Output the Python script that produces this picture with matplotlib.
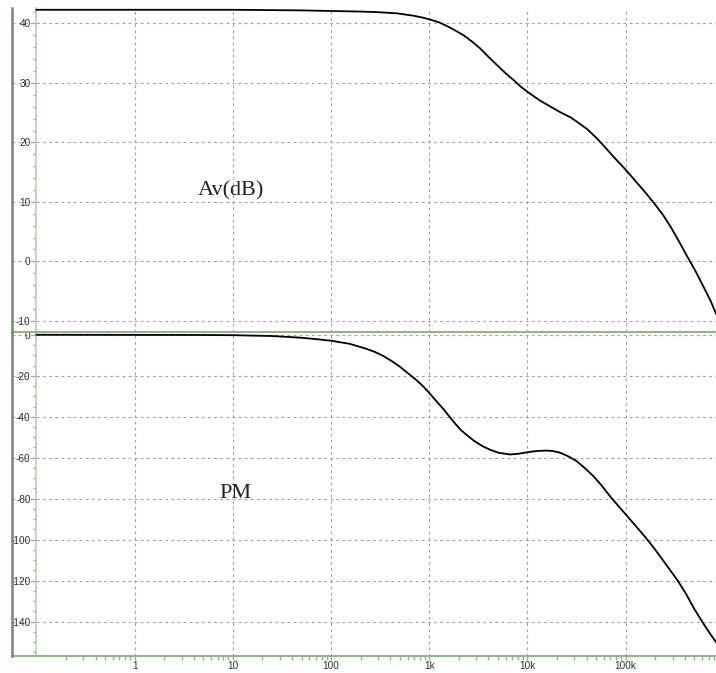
import matplotlib

matplotlib.use("Agg")
import matplotlib.pyplot as plt
from matplotlib.ticker import FixedFormatter, FixedLocator, MultipleLocator

plt.rcParams["axes.unicode_minus"] = False
plt.rcParams["font.family"] = ["Liberation Sans", "DejaVu Sans"]

# gain curve (Hz, dB)
FREQ_GAIN = [0.1, 10, 50, 100, 200, 300, 470, 690, 850, 1000, 1250, 1500, 1800,
             2240, 2700, 3300, 4000, 4900, 6000, 7200, 8500, 10000, 11500,
             13500, 16000, 18500, 22000, 27500, 33000, 40700, 50000, 60000,
             75000, 100000, 132000, 160000, 194000, 240000, 287000, 350000,
             424000, 520000, 625000, 730000, 831000]
GAIN_DB = [42.3, 42.3, 42.2, 42.1, 42.0, 41.9, 41.7, 41.3, 41.0, 40.7, 40.2,
           39.6, 38.9, 38.0, 37.0, 35.8, 34.4, 33.0, 31.6, 30.5, 29.4, 28.5,
           27.8, 27.0, 26.3, 25.7, 25.0, 24.2, 23.3, 22.2, 20.8, 19.4, 17.6,
           15.4, 13.1, 11.5, 9.8, 7.8, 5.8, 3.3, 0.8, -1.8, -4.4, -6.6, -8.8]

# phase curve (Hz, degrees)
FREQ_PHASE = [0.1, 5, 10, 25, 48, 70, 100, 154, 227, 280, 336, 410, 496, 600,
              731, 860, 1000, 1180, 1390, 1620, 1870, 2100, 2380, 2900, 3500,
              4200, 5100, 6600, 8000, 10000, 12500, 15800, 18500, 21600, 26000,
              31600, 38000, 46700, 57000, 69000, 83000, 100000, 125000, 155000,
              190000, 229000, 280000, 339000, 410000, 500000, 620000, 720000,
              831000]
PHASE_DEG = [0.0, -0.1, -0.2, -0.6, -1.4, -2.1, -2.9, -4.4, -6.8, -8.4, -10.2,
             -12.7, -15.4, -18.6, -21.9, -25.0, -28.4, -32.4, -36.2, -40.2,
             -43.8, -46.5, -48.7, -52.0, -54.4, -56.2, -57.6, -58.4, -58.1,
             -57.3, -56.7, -56.5, -56.8, -57.6, -59.3, -61.6, -64.9, -68.9,
             -73.6, -78.7, -83.2, -87.6, -93.0, -98.2, -103.5, -108.7, -114.5,
             -120.0, -126.3, -133.8, -141.0, -145.7, -150.0]

DECADES = [1, 10, 100, 1e3, 1e4, 1e5]
DECADE_LABELS = ["1", "10", "100", "1k", "10k", "100k"]
MINOR_X = [m * 10.0 ** e for e in range(-1, 6) for m in range(2, 10)]
GAIN_TICKS = [-10, 0, 10, 20, 30, 40]
PHASE_TICKS = [-140, -120, -100, -80, -60, -40, -20, 0]

XLIM = (0.0563, 831000)
GREEN = "#8fb58a"
DARK_GREEN = "#6a8f66"
AXIS_GREEN = "#b3cfae"
GRID = "#a0a0a0"
TEXT = "#2e2e2e"


def style(ax, ylim, yticks, yminor, show_x):
    ax.set_xscale("log")
    ax.set_xlim(*XLIM)
    ax.set_ylim(*ylim)
    ax.patch.set_visible(False)

    for side in ("top", "right"):
        ax.spines[side].set_visible(False)
    ax.spines["left"].set_position(("data", 0.1))
    ax.spines["left"].set_color(AXIS_GREEN)
    ax.spines["left"].set_linewidth(1.2)
    ax.spines["bottom"].set_color(GREEN)
    ax.spines["bottom"].set_linewidth(1.5)

    ax.yaxis.set_major_locator(FixedLocator(yticks))
    ax.yaxis.set_minor_locator(MultipleLocator(yminor))
    ax.tick_params(axis="y", which="both", direction="out", color=GREEN,
                   labelcolor=TEXT, labelsize=7.2, pad=1)
    ax.tick_params(axis="y", which="major", length=3.2, width=1)
    ax.tick_params(axis="y", which="minor", length=2.2, width=1)

    ax.xaxis.set_major_locator(FixedLocator(DECADES))
    ax.xaxis.set_minor_locator(FixedLocator(MINOR_X))
    if show_x:
        ax.xaxis.set_major_formatter(FixedFormatter(DECADE_LABELS))
        ax.xaxis.set_minor_formatter(FixedFormatter([]))
        ax.tick_params(axis="x", which="both", direction="out", color=GREEN,
                       labelcolor=TEXT, labelsize=7.2, length=2.6, width=1,
                       pad=1.5)
    else:
        ax.tick_params(axis="x", which="both", bottom=False, labelbottom=False)

    ax.grid(True, which="major", color=GRID, lw=0.8, ls=(0, (2.5, 3)))
    ax.set_axisbelow(True)

    # darker outer border on the left edge
    ax.plot([0, 0], [0, 1], transform=ax.transAxes, color=DARK_GREEN, lw=1.8,
            clip_on=False, zorder=6)


def main() -> None:
    fig = plt.figure(figsize=(7.16, 6.73), dpi=100)
    left, width = 12 / 716, 704 / 716
    ax_top = fig.add_axes([left, 1 - 331.5 / 673, width, 323.5 / 673])
    ax_bot = fig.add_axes([left, 1 - 655.7 / 673, width, 324.2 / 673])
    ax_top.set_zorder(3)

    ax_top.plot(FREQ_GAIN, GAIN_DB, color="black", lw=1.3, zorder=4)
    style(ax_top, (-11.8, 42.6), GAIN_TICKS, 2, show_x=False)
    ax_top.text(9.5, 11.8, "Av(dB)", ha="center", va="center", fontsize=16,
                family="Liberation Serif", color="#222222")

    ax_bot.plot(FREQ_PHASE, PHASE_DEG, color="black", lw=1.3, zorder=4)
    style(ax_bot, (-156.6, 1.6), PHASE_TICKS, 5, show_x=True)
    ax_bot.text(10.7, -77.5, "PM", ha="center", va="center", fontsize=16,
                family="Liberation Serif", color="#222222")

    fig.savefig("out.png", dpi=100, facecolor="white")
    plt.close(fig)


if __name__ == "__main__":
    main()
